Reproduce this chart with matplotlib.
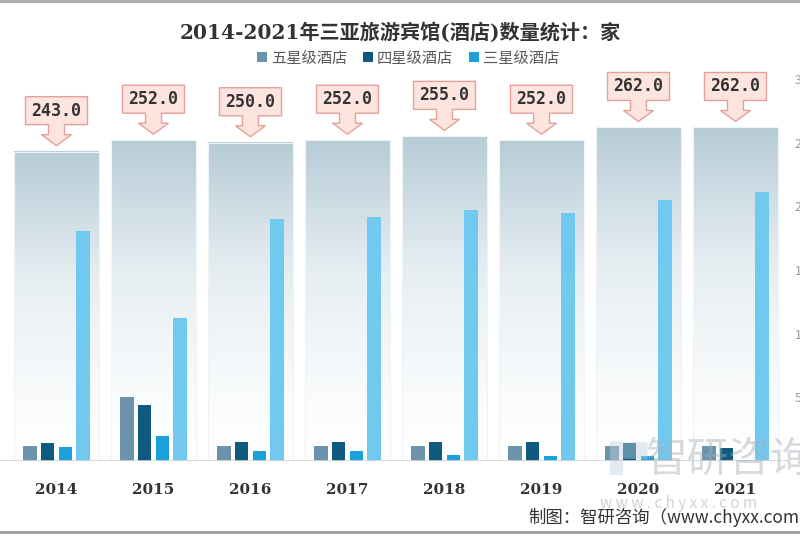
import numpy as np
import matplotlib
matplotlib.use('Agg')
import matplotlib.pyplot as plt
import matplotlib.transforms as mtransforms
from matplotlib.colors import LinearSegmentedColormap
from matplotlib.patches import Polygon, Patch
from matplotlib.lines import Line2D

# ---------------- data ----------------
years = ['2014', '2015', '2016', '2017', '2018', '2019', '2020', '2021']
total = [243, 252, 250, 252, 255, 252, 262, 262]
five_star = [12, 50, 12, 12, 12, 12, 12, 12]
four_star = [14, 44, 15, 15, 15, 15, 14, 10]
three_star = [11, 20, 8, 8, 5, 4, 4, 1]
other = [181, 112, 190, 192, 197, 195, 205, 211]
series_names = ['五星级酒店', '四星级酒店', '三星级酒店']
y_ticks = [50, 100, 150, 200, 250, 300]

# ---------------- style ----------------
c_five = '#6b93ab'
c_four = '#0f5a7e'
c_three = '#1ba1d9'
c_other = '#72c9ef'
box_face = '#fde4df'
box_edge = '#e3a19a'
text_dark = '#333333'
cjk = ['DejaVu Serif', 'Noto Sans CJK SC']
plt.rcParams['font.family'] = ['Noto Sans CJK SC', 'DejaVu Sans']

W, H = 800, 535
fig = plt.figure(figsize=(W / 100, H / 100), dpi=100)
ax_left, ax_right = 0.0, 788 / W
ax_bottom, ax_top = (H - 461) / H, (H - 60) / H
ax = fig.add_axes([ax_left, ax_bottom, ax_right - ax_left, ax_top - ax_bottom])

x = np.arange(len(years))
bw_total = 0.876
bw = 0.139
step = 0.1835

# background "total" bars with vertical gradient (fades to white at the bottom)
bg = ax.bar(x, total, width=bw_total, color='none', edgecolor='#f0f3f5', linewidth=0.8, zorder=1)
grad_cmap = LinearSegmentedColormap.from_list('g', ['#ffffff', '#e6eef2', '#b7ccd7'])
grad = (np.linspace(0, 1, 256) ** 1.3).reshape(-1, 1)
for rect in bg:
    x0, w, h = rect.get_x(), rect.get_width(), rect.get_height()
    ax.imshow(grad, cmap=grad_cmap, origin='lower', aspect='auto', vmin=0, vmax=1,
              extent=[x0, x0 + w, 0, h], zorder=0.9, interpolation='bicubic')

for i, (vals, col) in enumerate(zip([five_star, four_star, three_star, other],
                                    [c_five, c_four, c_three, c_other])):
    ax.bar(x + (i - 1.5) * step, vals, width=bw, color=col, zorder=3)

ax.set_xlim(-56.5 / 97, (788 - 56.5) / 97)
ax.set_ylim(0, 401 / 1.273)
ax.set_aspect('auto')

for s in ['top', 'left', 'right', 'bottom']:
    ax.spines[s].set_visible(False)
ax.axhline(0, color='#d4d4d4', lw=1.2, zorder=4)

ax.set_xticks(x)
ax.set_xticklabels(years, fontsize=11, fontweight='bold', color=text_dark, family='DejaVu Serif')
ax.tick_params(axis='x', length=0, pad=16)
ax.yaxis.tick_right()
ax.set_yticks(y_ticks)
ax.set_yticklabels([str(t) for t in y_ticks], fontsize=9, color='#9a9a9a')
ax.tick_params(axis='y', length=0, pad=5)

# callouts (box + down arrow) above each total bar, shapes in pixels
shape = [(-31, 27), (-31, 55), (31, 55), (31, 27), (8, 27), (8, 17), (15, 17),
         (0, 6), (-15, 17), (-8, 17), (-8, 27)]
for xi, v in zip(x, total):
    tr = mtransforms.Affine2D() + mtransforms.ScaledTranslation(xi, v, ax.transData)
    poly = Polygon(shape, closed=True, facecolor=box_face, edgecolor=box_edge,
                   linewidth=1, transform=tr, clip_on=False, zorder=5)
    ax.add_patch(poly)
    ax.text(0, 41, f'{v:.1f}', transform=tr, ha='center', va='center',
            fontsize=12, fontweight='bold', family='DejaVu Sans Mono',
            color=text_dark, zorder=6)

# title & legend
fig.text(0.5, (H - 32) / H, '2014-2021年三亚旅游宾馆(酒店)数量统计：家',
         ha='center', va='center', fontsize=14.5, fontweight='bold',
         color=text_dark, family=cjk)
handles = [Patch(facecolor=c, edgecolor='none') for c in [c_five, c_four, c_three]]
leg = fig.legend(handles, series_names, loc='center', bbox_to_anchor=(0.51, (H - 58) / H),
                 ncol=3, frameon=False, fontsize=11, handlelength=0.65, handleheight=0.65,
                 handletextpad=0.3, columnspacing=1.0)
for t in leg.get_texts():
    t.set_color('#5a5a5a')

# watermark and source
fig.text(645 / W, (H - 460) / H, '智研咨询', fontsize=30, color='#a7afb6', alpha=0.45,
         ha='left', va='center', zorder=10)
fig.text(600 / W, (H - 503) / H, 'w w w . c h y x x . c o m', fontsize=11, color='#b0b7bd',
         alpha=0.6, ha='left', va='center', zorder=10)
fig.text(596 / W, (H - 458) / H, '▐▀', fontsize=24, color='#c2d2df', alpha=0.45,
         ha='left', va='center', family='DejaVu Sans', zorder=10)
fig.text(528 / W, (H - 517) / H, '制图：智研咨询（www.chyxx.com）', fontsize=12.5,
         color=text_dark, ha='left', va='center', zorder=11)

# frame lines at top and bottom of image
fig.add_artist(Line2D([0, 1], [0.999, 0.999], transform=fig.transFigure, color='#a8a8a8', lw=2))
fig.add_artist(Line2D([0, 1], [3 / H, 3 / H], transform=fig.transFigure, color='#9c9c9c', lw=2))

fig.savefig('out.png', dpi=100)
